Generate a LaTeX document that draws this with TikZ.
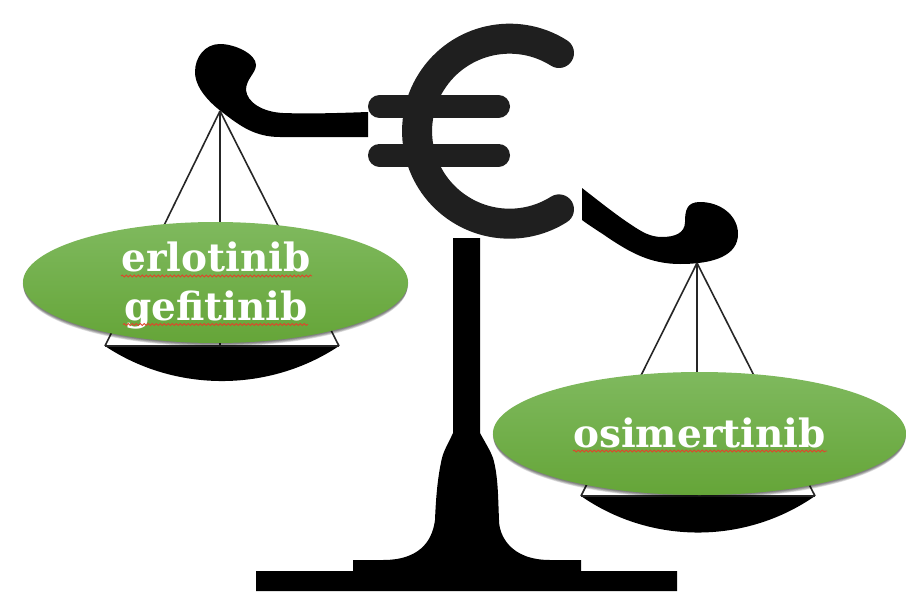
\documentclass[tikz,border=0pt]{standalone}
\usepackage{fontspec}
\newfontfamily\drugfont[Scale=1]{DejaVu Serif}
\usetikzlibrary{shapes.geometric,decorations.pathmorphing}
\definecolor{eurodark}{HTML}{1F1F1F}
\definecolor{pilltop}{HTML}{7FB95E}
\definecolor{pillmid}{HTML}{70AE45}
\definecolor{pillbottom}{HTML}{65A538}
\definecolor{squigglered}{HTML}{E0452A}
\tikzset{
  solidblack/.style={fill=black,draw=none},
  stringline/.style={draw=black!85,line width=1.6pt},
  chordline/.style={draw=black!85,line width=1.2pt},
  pill/.style={ellipse,draw=none,inner sep=0pt,top color=pilltop,middle color=pillmid,bottom color=pillbottom},
  pillshade/.style={fill=black,fill opacity=0.13,draw=none},
  drug/.style={anchor=base,inner sep=0pt,text=white,font=\drugfont\bfseries\fontsize{39}{39}\selectfont},
  squiggle/.style={draw=squigglered,line width=0.9pt,decorate,decoration={snake,amplitude=0.9pt,segment length=4pt}},
  eurostroke/.style={draw=eurodark,line width=30pt,line cap=round},
  eurobar/.style={draw=eurodark,line width=23pt,line cap=round}
}
\begin{document}
\begin{tikzpicture}[x=1pt,y=-1pt]
\useasboundingbox (0,0) rectangle (906,592);
\clip (0,0) rectangle (906,592);
\fill[white] (0,0) rectangle (906,592);

% Upright post with its stepped foot
\path[solidblack] (453,238) -- (453,433)
  .. controls (448,444) and (444,450) .. (442,458)
  .. controls (438,475) and (436,495) .. (435,520)
  .. controls (433,535) and (425,560) .. (383,560)
  -- (353,560) -- (353,571) -- (256,571) -- (256,591) -- (677,591) -- (677,571)
  -- (581,571) -- (581,560) -- (550,560)
  .. controls (510,560) and (499,535) .. (499,520)
  .. controls (498,495) and (498,475) .. (493,458)
  .. controls (490,450) and (486,444) .. (480,433)
  -- (480,238) -- cycle;

% Left arm of the beam
\path[solidblack] (368,112)
  .. controls (340,113) and (310,114) .. (283,113)
  .. controls (262,112) and (247,102) .. (246,90)
  .. controls (246,79) and (256,73) .. (256,65)
  .. controls (256,54) and (235,44) .. (220,44)
  .. controls (205,44) and (195,57) .. (195,72)
  .. controls (195,88) and (210,103) .. (222,112)
  .. controls (240,126) and (255,137) .. (280,137)
  -- (368,137) -- cycle;

% Right arm of the beam
\path[solidblack] (582,188)
  .. controls (600,202) and (615,214) .. (630,224)
  .. controls (642,232) and (650,237) .. (662,237)
  .. controls (675,237) and (685,233) .. (685,222)
  .. controls (685,210) and (687,202) .. (700,202)
  .. controls (720,202) and (738,215) .. (738,234)
  .. controls (738,255) and (715,264) .. (680,264)
  .. controls (650,264) and (630,252) .. (610,239)
  .. controls (600,232) and (590,226) .. (582,220)
  -- cycle;

% Euro sign
\draw[eurostroke] (559,53) arc[start angle=-57.7,end angle=-302.3,radius=92.5];
\draw[eurobar] (379.5,106.5) -- (498.5,106.5);
\draw[eurobar] (379.5,155) -- (498.5,155);

% Hanging points of the two pans
\coordinate (apexL) at (220,111);
\coordinate (apexR) at (697,263);
\coordinate (panLw) at (105,346);
\coordinate (panLm) at (220,346);
\coordinate (panLe) at (339,346);
\coordinate (panRw) at (581,496);
\coordinate (panRm) at (697,496);
\coordinate (panRe) at (815,496);

% Pans and their cords
\path[solidblack] (panLw) .. controls (175,392.7) and (269,392.7) .. (panLe) -- cycle;
\path[solidblack] (panRw) .. controls (651,544.7) and (745,544.7) .. (panRe) -- cycle;
\draw[stringline] (apexL) -- (panLw);
\draw[stringline] (apexL) -- (panLm);
\draw[stringline] (apexL) -- (panLe);
\draw[chordline] (panLw) -- (panLe);
\draw[stringline] (apexR) -- (panRw);
\draw[stringline] (apexR) -- (panRm);
\draw[stringline] (apexR) -- (panRe);
\draw[chordline] (panRw) -- (panRe);

% Soft shadows under the green ellipses
\foreach \g in {1,2,3,4,5}{
  \path[pillshade] (215.5,{282.5+0.9*\g}) ellipse[x radius={192.5+0.6-0.3*\g},y radius={60.5-0.2*\g}];
  \path[pillshade] (699.5,{433.5+0.9*\g}) ellipse[x radius={206.5+0.6-0.3*\g},y radius={61.5-0.2*\g}];
}

% Green ellipses
\node[pill,minimum width=385pt,minimum height=121pt] (pillL) at (215.5,282.5) {};
\node[pill,minimum width=413pt,minimum height=123pt] (pillR) at (699.5,433.5) {};

% Drug names with their spell-check underlines
\node[drug] (erlo) at (216,271.5) {erlotinib};
\node[drug] (gefi) at (216,320) {gefitinib};
\node[drug] (osim) at (699.5,447) {osimertinib};
\draw[squiggle] (121,276) -- (312,276);
\draw[squiggle] (123,324.5) -- (308,324.5);
\draw[squiggle] (573,451) -- (827,451);
\end{tikzpicture}
\end{document}
